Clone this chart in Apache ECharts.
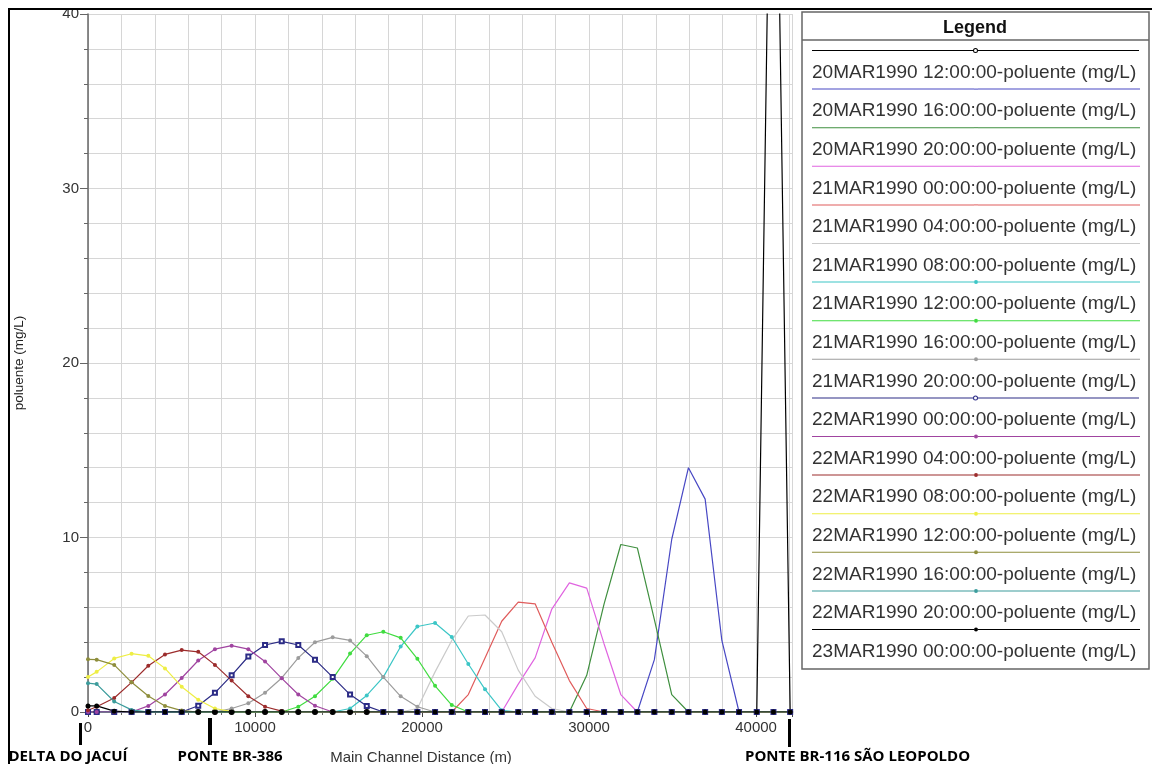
<!DOCTYPE html>
<html>
<head>
<meta charset="utf-8">
<script src="https://cdn.jsdelivr.net/npm/echarts@6/dist/echarts.min.js"></script>
<style>
  html, body { margin: 0; padding: 0; background: #ffffff; }
  #chart { width: 1152px; height: 764px; }
</style>
</head>
<body>
<div id="chart"></div>
<script>
// Cross-section stations along the main channel (m)
const distances = [
  0, 520, 1570, 2610, 3610, 4610, 5610, 6600, 7600, 8600,
  9600, 10600, 11600, 12590, 13590, 14650, 15690, 16690, 17680, 18720,
  19720, 20780, 21780, 22770, 23770, 24770, 25760, 26770, 27770, 28820,
  29860, 30900, 31900, 32890, 33910, 34950, 35950, 36950, 37950, 38980,
  40040, 41040, 42040
];

// Profile names (one per output time)
const profileNames = [
  '20MAR1990 12:00:00-poluente (mg/L)',
  '20MAR1990 16:00:00-poluente (mg/L)',
  '20MAR1990 20:00:00-poluente (mg/L)',
  '21MAR1990 00:00:00-poluente (mg/L)',
  '21MAR1990 04:00:00-poluente (mg/L)',
  '21MAR1990 08:00:00-poluente (mg/L)',
  '21MAR1990 12:00:00-poluente (mg/L)',
  '21MAR1990 16:00:00-poluente (mg/L)',
  '21MAR1990 20:00:00-poluente (mg/L)',
  '22MAR1990 00:00:00-poluente (mg/L)',
  '22MAR1990 04:00:00-poluente (mg/L)',
  '22MAR1990 08:00:00-poluente (mg/L)',
  '22MAR1990 12:00:00-poluente (mg/L)',
  '22MAR1990 16:00:00-poluente (mg/L)',
  '22MAR1990 20:00:00-poluente (mg/L)',
  '23MAR1990 00:00:00-poluente (mg/L)'
];

// Concentration (mg/L) at each station, one array per time
const c20Mar12 = [0,0,0,0,0,0,0,0,0,0, 0,0,0,0,0,0,0,0,0,0, 0,0,0,0,0,0,0,0,0,0, 0,0,0,0,0,0,0,0,0,0, 0,64,0];
const c20Mar16 = [0,0,0,0,0,0,0,0,0,0, 0,0,0,0,0,0,0,0,0,0, 0,0,0,0,0,0,0,0,0,0, 0,0,0,0,3.0,9.9,14.0,12.2,4.1,0, 0,0,0];
const c20Mar20 = [0,0,0,0,0,0,0,0,0,0, 0,0,0,0,0,0,0,0,0,0, 0,0,0,0,0,0,0,0,0,0, 2.1,6.2,9.6,9.4,5.3,1.0,0,0,0,0, 0,0,0];
const c21Mar00 = [0,0,0,0,0,0,0,0,0,0, 0,0,0,0,0,0,0,0,0,0, 0,0,0,0,0,0,1.6,3.1,5.9,7.4, 7.1,3.9,1.0,0,0,0,0,0,0,0, 0,0,0];
const c21Mar04 = [0,0,0,0,0,0,0,0,0,0, 0,0,0,0,0,0,0,0,0,0, 0,0,0,1.0,3.1,5.2,6.3,6.2,4.0,1.8, 0.2,0,0,0,0,0,0,0,0,0, 0,0,0];
const c21Mar08 = [0,0,0,0,0,0,0,0,0,0, 0,0,0,0,0,0,0,0,0,0, 0.2,2.3,4.1,5.5,5.56,4.6,2.4,0.9,0.2,0, 0,0,0,0,0,0,0,0,0,0, 0,0,0];
const c21Mar12 = [0,0,0,0,0,0,0,0,0,0, 0,0,0,0,0,0,0.2,0.95,2.0,3.75, 4.9,5.1,4.3,2.75,1.3,0.1,0,0,0,0, 0,0,0,0,0,0,0,0,0,0, 0,0,0];
const c21Mar16 = [0,0,0,0,0,0,0,0,0,0, 0,0,0,0.3,0.9,1.9,3.35,4.4,4.6,4.25, 3.05,1.5,0.4,0,0,0,0,0,0,0, 0,0,0,0,0,0,0,0,0,0, 0,0,0];
const c21Mar20 = [0,0,0,0,0,0,0,0,0,0.2, 0.5,1.1,1.95,3.1,4.0,4.28,4.1,3.2,2.0,0.9, 0.3,0,0,0,0,0,0,0,0,0, 0,0,0,0,0,0,0,0,0,0, 0,0,0];
const c22Mar00 = [0,0,0,0,0,0,0,0.36,1.1,2.1, 3.18,3.84,4.05,3.84,3.0,2.0,1.0,0.34,0,0, 0,0,0,0,0,0,0,0,0,0, 0,0,0,0,0,0,0,0,0,0, 0,0,0];
const c22Mar04 = [0,0,0,0,0.35,1.0,1.95,2.95,3.6,3.8, 3.6,2.9,1.93,1.0,0.36,0,0,0,0,0, 0,0,0,0,0,0,0,0,0,0, 0,0,0,0,0,0,0,0,0,0, 0,0,0];
const c22Mar08 = [0.1,0.3,0.8,1.7,2.65,3.3,3.55,3.45,2.7,1.8, 0.9,0.3,0.05,0,0,0,0,0,0,0, 0,0,0,0,0,0,0,0,0,0, 0,0,0,0,0,0,0,0,0,0, 0,0,0];
const c22Mar12 = [2.0,2.3,3.07,3.34,3.22,2.5,1.45,0.7,0.2,0.02, 0,0,0,0,0,0,0,0,0,0, 0,0,0,0,0,0,0,0,0,0, 0,0,0,0,0,0,0,0,0,0, 0,0,0];
const c22Mar16 = [3.02,3.0,2.7,1.7,0.92,0.35,0.08,0,0,0, 0,0,0,0,0,0,0,0,0,0, 0,0,0,0,0,0,0,0,0,0, 0,0,0,0,0,0,0,0,0,0, 0,0,0];
const c22Mar20 = [1.65,1.6,0.6,0.12,0,0,0,0,0,0, 0,0,0,0,0,0,0,0,0,0, 0,0,0,0,0,0,0,0,0,0, 0,0,0,0,0,0,0,0,0,0, 0,0,0];
const c23Mar00 = [0.35,0.35,0.05,0,0,0,0,0,0,0, 0,0,0,0,0,0,0,0,0,0, 0,0,0,0,0,0,0,0,0,0, 0,0,0,0,0,0,0,0,0,0, 0,0,0];

const profiles = [
  c20Mar12, c20Mar16, c20Mar20, c21Mar00, c21Mar04, c21Mar08, c21Mar12, c21Mar16,
  c21Mar20, c22Mar00, c22Mar04, c22Mar08, c22Mar12, c22Mar16, c22Mar20, c23Mar00
];

// Axis tick values
const xTickStep = 10000;
const yTickStep = 10;

// Line colours and point symbols per profile
const lineColors = [
  '#000000', '#4848c4', '#3f8f3f', '#e064e0', '#e05c5c', '#cacaca', '#3cc6c6', '#40dc40',
  '#9c9c9c', '#2c2c86', '#a044a0', '#9c2c2c', '#eeee44', '#8e8e3c', '#3c9c9c', '#000000'
];
const pointSymbols = [
  'emptyCircle', 'none', 'none', 'none', 'none', 'none', 'circle', 'circle',
  'circle', 'emptyRect', 'circle', 'circle', 'circle', 'circle', 'circle', 'circle'
];

const FONT = 'Liberation Sans, Arial, sans-serif';
const LABEL_FONT = 'bold 15px Open Sans, sans-serif';

const chart = echarts.init(document.getElementById('chart'), null, { renderer: 'canvas' });

const series = profiles.map((vals, i) => ({
  type: 'line',
  name: profileNames[i],
  data: distances.map((d, k) => [d, vals[k]]),
  symbol: pointSymbols[i] === 'none' ? 'circle' : pointSymbols[i],
  showSymbol: pointSymbols[i] !== 'none',
  symbolSize: i === profiles.length - 1 ? 5 : 4,
  lineStyle: { color: lineColors[i], width: 1.2 },
  itemStyle: { color: lineColors[i] },
  emphasis: { disabled: true },
  clip: true,
  animation: false
}));

// Legend swatch: a long line with the point symbol in the middle, name underneath
const rich = {
  t: { fontSize: 19, lineHeight: 22, color: '#333333', fontFamily: FONT }
};
lineColors.forEach((c, i) => {
  const seg = { width: 162, height: 1, lineHeight: 22, backgroundColor: c };
  rich['a' + i] = seg;
  rich['b' + i] = seg;
  const sym = pointSymbols[i];
  if (sym === 'none') {
    rich['m' + i] = { width: 4, height: 1, lineHeight: 22, backgroundColor: c };
  } else if (sym === 'emptyCircle' || sym === 'emptyRect') {
    rich['m' + i] = { width: 3, height: 3, lineHeight: 22, backgroundColor: '#ffffff',
      borderColor: c, borderWidth: 1, borderRadius: 3 };
  } else {
    rich['m' + i] = { width: 4, height: 4, lineHeight: 22, backgroundColor: c, borderRadius: 2 };
  }
});

const option = {
  backgroundColor: '#ffffff',
  animation: false,
  grid: { left: 88, right: 360, top: 14, bottom: 52, containLabel: false, outerBoundsMode: 'none' },
  xAxis: {
    type: 'value',
    min: 0,
    max: 42150,
    interval: xTickStep,
    name: 'Main Channel Distance (m)',
    nameLocation: 'middle',
    nameGap: 38,
    nameTextStyle: { fontSize: 15, color: '#333333', fontFamily: FONT, padding: [0, 38, 0, 0] },
    axisLine: { show: true, onZero: false, lineStyle: { color: '#444444', width: 1.5 } },
    axisTick: { show: true, length: 5, lineStyle: { color: '#444444' } },
    minorTick: { show: true, splitNumber: 5, length: 3, lineStyle: { color: '#666666' } },
    axisLabel: { fontSize: 15, color: '#333333', fontFamily: FONT, margin: 8, showMaxLabel: false,
                 formatter: (v) => String(v) },
    splitLine: { show: true, lineStyle: { color: '#d6d6d6', width: 1 } },
    minorSplitLine: { show: true, lineStyle: { color: '#d6d6d6', width: 1 } }
  },
  yAxis: {
    type: 'value',
    min: 0,
    max: 40,
    interval: yTickStep,
    name: 'poluente (mg/L)',
    nameLocation: 'middle',
    nameGap: 62,
    nameTextStyle: { fontSize: 13.5, color: '#222222', fontFamily: FONT },
    axisLine: { show: true, lineStyle: { color: '#666666', width: 1.5 } },
    axisTick: { show: true, length: 8, lineStyle: { color: '#666666' } },
    minorTick: { show: true, splitNumber: 5, length: 4, lineStyle: { color: '#666666' } },
    axisLabel: { fontSize: 15, color: '#333333', fontFamily: FONT, margin: 9 },
    splitLine: { show: true, lineStyle: { color: '#d6d6d6', width: 1 } },
    minorSplitLine: { show: true, lineStyle: { color: '#d6d6d6', width: 1 } }
  },
  legend: {
    orient: 'vertical',
    left: 802,
    top: 12,
    padding: [29, 9, 8, 5],
    itemGap: -2.4,
    itemWidth: 0,
    itemHeight: 0,
    icon: 'none',
    align: 'left',
    borderColor: '#666666',
    borderWidth: 1.5,
    backgroundColor: '#ffffff',
    data: profileNames,
    formatter: (name) => {
      const i = profileNames.indexOf(name);
      return '{a' + i + '|}{m' + i + '|}{b' + i + '|}\n{t|' + name + '}';
    },
    textStyle: { fontSize: 19, color: '#333333', fontFamily: FONT, rich: rich }
  },
  graphic: {
    elements: [
      // legend heading and its rule
      { type: 'text', left: 943, top: 19, z: 20,
        style: { text: 'Legend', font: 'bold 18px ' + FONT, fill: '#111111' } },
      { type: 'line', z: 20, shape: { x1: 802, y1: 40, x2: 1149, y2: 40 },
        style: { stroke: '#666666', lineWidth: 1.5 } },
      // outer frame
      { type: 'polyline', z: 20, shape: { points: [[9, 764], [9, 9], [1152, 9]] },
        style: { stroke: '#000000', lineWidth: 2, fill: null } },
      // landmarks along the channel
      { type: 'rect', z: 20, shape: { x: 79, y: 723, width: 3, height: 22 }, style: { fill: '#000000' } },
      { type: 'rect', z: 20, shape: { x: 208, y: 718, width: 4, height: 27 }, style: { fill: '#000000' } },
      { type: 'rect', z: 20, shape: { x: 788, y: 719, width: 3, height: 28 }, style: { fill: '#000000' } },
      { type: 'text', z: 20, x: 68, y: 757,
        style: { text: 'DELTA DO JACUÍ', font: LABEL_FONT, fill: '#000000',
                 align: 'center', verticalAlign: 'middle' } },
      { type: 'text', z: 20, x: 230, y: 757,
        style: { text: 'PONTE BR-386', font: LABEL_FONT, fill: '#000000',
                 align: 'center', verticalAlign: 'middle' } },
      { type: 'text', z: 20, x: 745, y: 757,
        style: { text: 'PONTE BR-116 SÃO LEOPOLDO', font: LABEL_FONT, fill: '#000000',
                 align: 'left', verticalAlign: 'middle' } }
    ]
  },
  series: series
};

chart.setOption(option);
</script>
</body>
</html>
